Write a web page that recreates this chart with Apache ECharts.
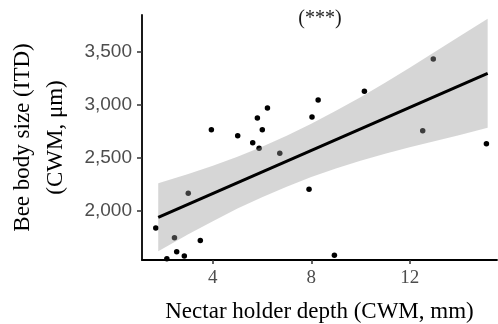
<!DOCTYPE html>
<html>
<head>
<meta charset="utf-8">
<script src="https://cdn.jsdelivr.net/npm/echarts@6/dist/echarts.min.js"></script>
<style>
  html, body { margin: 0; padding: 0; background: #fff; }
  #chart { width: 498px; height: 324px; }
</style>
</head>
<body>
<div id="chart"></div>
<script>
// 散点数据：花蜜深度 (mm) 与 蜂体大小 (µm)
const depth = [1.68, 2.13, 2.44, 2.53, 2.84, 3.0, 3.49, 3.94, 5.01, 5.62, 5.81, 5.88,
               6.01, 6.22, 6.72, 7.91, 8.03, 8.28, 8.94, 10.16, 12.53, 12.96, 15.12];
const bodySize = [1840, 1550, 1748, 1616, 1575, 2167, 1723, 2767, 2710, 2644, 2877, 2591,
                  2767, 2972, 2544, 2205, 2887, 3047, 1582, 3129, 2758, 3434, 2635];

// 回归线端点
const fitX = [1.78, 15.17];
const fitY = [1941, 3299];

// 置信区间
const bandX = [1.78, 3, 4, 5, 6, 7, 8, 9, 10, 11, 12, 13, 14, 15.17];
const bandUpper = [2261, 2350, 2428, 2513, 2607, 2710, 2824, 2945, 3074, 3211, 3352, 3498, 3645, 3813];
const bandLower = [1621, 1780, 1904, 2023, 2131, 2230, 2320, 2401, 2474, 2541, 2602, 2658, 2715, 2785];

// 刻度
const xTicks = [4, 8, 12];
const yTicks = [2000, 2500, 3000, 3500];

const serif = '"Liberation Serif", "DejaVu Serif", serif';
const sans = '"Liberation Sans", Arial, sans-serif';

const chart = echarts.init(document.getElementById('chart'));

const option = {
    animation: false,
    title: {
        text: '(***)',
        left: 315,
        top: 4,
        textAlign: 'center',
        textStyle: { fontFamily: serif, fontSize: 20, fontWeight: 'normal', color: '#1a1a1a' }
    },
    grid: { left: 142, right: 1, top: 15, bottom: 64, outerBoundsMode: 'none' },
    xAxis: {
        type: 'value',
        min: 1.12,
        max: 15.55,
        name: 'Nectar holder depth (CWM, mm)',
        nameLocation: 'middle',
        nameGap: 40,
        nameTextStyle: { fontFamily: serif, fontSize: 23, color: '#000', verticalAlign: 'top' },
        axisLine: { lineStyle: { color: '#000', width: 1.8 } },
        axisTick: { customValues: xTicks, length: 4, lineStyle: { color: '#333', width: 1.5 } },
        axisLabel: {
            customValues: xTicks,
            margin: 9,
            fontFamily: serif,
            fontSize: 19,
            color: '#4d4d4d'
        },
        splitLine: { show: false }
    },
    yAxis: {
        type: 'value',
        min: 1538,
        max: 3849,
        name: 'Bee body size (ITD)\n(CWM, μm)',
        nameLocation: 'middle',
        nameRotate: 90,
        nameGap: 70,
        nameTextStyle: { fontFamily: serif, fontSize: 23, color: '#000', lineHeight: 33 },
        axisLine: { show: true, lineStyle: { color: '#000', width: 1.8 } },
        axisTick: { show: true, customValues: yTicks, length: 5, lineStyle: { color: '#333', width: 1.5 } },
        axisLabel: {
            customValues: yTicks,
            margin: 10,
            fontFamily: sans,
            fontSize: 19,
            color: '#4d4d4d',
            formatter: (v) => v.toLocaleString('en-US')
        },
        splitLine: { show: false }
    },
    series: [
        {
            name: 'sites',
            type: 'scatter',
            symbolSize: 5.5,
            itemStyle: { color: '#000', opacity: 1 },
            z: 2,
            data: depth.map((x, i) => [x, bodySize[i]])
        },
        {
            name: 'ci',
            type: 'custom',
            z: 3,
            silent: true,
            renderItem: (params, api) => {
                const pts = [];
                bandX.forEach((x, i) => pts.push(api.coord([x, bandUpper[i]])));
                for (let i = bandX.length - 1; i >= 0; i--) {
                    pts.push(api.coord([bandX[i], bandLower[i]]));
                }
                return {
                    type: 'polygon',
                    shape: { points: pts },
                    style: { fill: 'rgba(153,153,153,0.4)' }
                };
            },
            data: [[bandX[0], bandUpper[0]]]
        },
        {
            name: 'fit',
            type: 'line',
            z: 4,
            symbol: 'none',
            lineStyle: { color: '#000', width: 3 },
            data: fitX.map((x, i) => [x, fitY[i]])
        }
    ]
};

chart.setOption(option);
</script>
</body>
</html>
